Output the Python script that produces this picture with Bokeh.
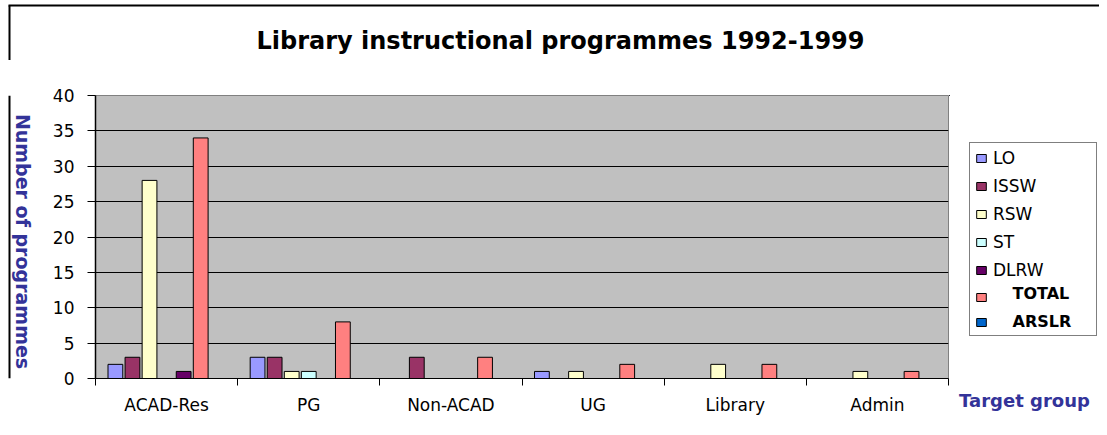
import math
from bokeh.plotting import figure
from bokeh.layouts import row, column
from bokeh.models import (ColumnDataSource, FixedTicker, Label, Legend, LegendItem,
                          Range1d)
from bokeh.transform import dodge
from bokeh.embed import file_html
from bokeh.resources import INLINE

# ---- data ----
categories = ["ACAD-Res", "PG", "Non-ACAD", "UG", "Library", "Admin"]
series = ["LO", "ISSW", "RSW", "ST", "DLRW", "TOTAL", "ARSLR"]
LO = [2, 3, 0, 1, 0, 0]
ISSW = [3, 3, 3, 0, 0, 0]
RSW = [28, 1, 0, 1, 2, 1]
ST = [0, 1, 0, 0, 0, 0]
DLRW = [1, 0, 0, 0, 0, 0]
TOTAL = [34, 8, 3, 2, 2, 1]
ARSLR = [0, 0, 0, 0, 0, 0]
colors = ["#9999FF", "#993366", "#FFFFCC", "#CCFFFF", "#660066", "#FF8080", "#0066CC"]
bold_series = ["TOTAL", "ARSLR"]
y_ticks = [0, 5, 10, 15, 20, 25, 30, 35, 40]

title_text = "Library instructional programmes 1992-1999"
y_label = "Number of programmes"
x_label = "Target group"

FONT = "DejaVu Sans"
BLUE = "#333399"

# ---- layout geometry (screen pixels) ----
W_TOTAL = 1099
H_TITLE = 60
H_ROW = 367
FRAME_L, FRAME_R, FRAME_T, FRAME_B = 95, 948, 95, 378
X_BAR = 9
W_LEFT = 45
X_RIGHT = FRAME_R + 1
W_RIGHT = W_TOTAL - X_RIGHT
W_MAIN = X_RIGHT - W_LEFT


def blank_fig(w, h, xr, yr):
    f = figure(width=w, height=h, output_backend="svg", toolbar_location=None,
               x_range=Range1d(*xr), y_range=Range1d(*yr),
               x_axis_type=None, y_axis_type=None,
               min_border_left=0, min_border_right=0, min_border_top=0,
               min_border_bottom=0)
    f.outline_line_color = None
    f.background_fill_color = "white"
    f.border_fill_color = "white"
    f.xgrid.visible = False
    f.ygrid.visible = False
    return f


# ---- title strip ----
tfig = blank_fig(W_TOTAL, H_TITLE, (0, W_TOTAL), (H_TITLE, 0))
tfig.segment(x0=[X_BAR - 1, X_BAR], y0=[5, 5], x1=[W_TOTAL, X_BAR], y1=[5, H_TITLE],
             line_color="black", line_width=2)
tfig.add_layout(Label(x=560, y=40, text=title_text, text_font=FONT,
                      text_font_style="bold", text_font_size="24px",
                      text_color="black", text_align="center",
                      text_baseline="middle"))

# ---- left strip with y label (frame aligned to main frame: 95..378) ----
lfig = blank_fig(W_LEFT, H_ROW, (0, W_LEFT), (FRAME_B, FRAME_T))
lfig.segment(x0=[X_BAR], y0=[FRAME_B], x1=[X_BAR], y1=[FRAME_T],
             line_color="black", line_width=2)
lfig.add_layout(Label(x=22, y=241, angle=-math.pi / 2, text=y_label,
                      text_font=FONT, text_font_style="bold",
                      text_font_size="19px", text_color=BLUE,
                      text_align="center", text_baseline="middle"))

# ---- main chart ----
xc = [i + 0.5 for i in range(len(categories))]
source = ColumnDataSource(dict(x=xc, LO=LO, ISSW=ISSW, RSW=RSW, ST=ST,
                               DLRW=DLRW, TOTAL=TOTAL, ARSLR=ARSLR))

p = figure(width=W_MAIN, height=H_ROW, output_backend="svg", toolbar_location=None,
           x_range=Range1d(0, len(categories)), y_range=Range1d(0, 40),
           min_border_left=FRAME_L - W_LEFT, min_border_right=1,
           min_border_top=FRAME_T - H_TITLE,
           min_border_bottom=H_ROW - (FRAME_B - H_TITLE))
p.background_fill_color = "#C0C0C0"
p.border_fill_color = "white"
p.outline_line_color = "#808080"

pitch = 0.12
for j, name in enumerate(series):
    p.vbar(x=dodge("x", (j - 3) * pitch, range=p.x_range), top=name,
           width=0.104, source=source, fill_color=colors[j],
           line_color="black", line_width=1)

p.xgrid.visible = False
p.ygrid.ticker = FixedTicker(ticks=y_ticks[1:-1])
p.ygrid.grid_line_color = "black"
p.ygrid.grid_line_width = 1

xa = p.xaxis[0]
xa.ticker = FixedTicker(ticks=xc, minor_ticks=list(range(len(categories) + 1)))
xa.major_label_overrides = {x: c for x, c in zip(xc, categories)}
xa.major_tick_out = 0
xa.major_tick_in = 0
xa.minor_tick_out = 7
xa.minor_tick_in = 0
xa.minor_tick_line_color = "black"
xa.axis_line_color = "black"
xa.major_label_text_font = FONT
xa.major_label_text_font_size = "17px"
xa.major_label_text_color = "black"
xa.major_label_standoff = 9

ya = p.yaxis[0]
ya.ticker = FixedTicker(ticks=y_ticks)
ya.major_tick_out = 8
ya.major_tick_in = 0
ya.minor_tick_line_color = None
ya.axis_line_color = "black"
ya.axis_line_width = 1.5
ya.major_tick_line_color = "black"
ya.major_label_text_font = FONT
ya.major_label_text_font_size = "17px"
ya.major_label_text_color = "black"
ya.major_label_standoff = 13

# ---- right strip: legend + x axis title ----
q = figure(width=W_RIGHT, height=H_ROW, output_backend="svg", toolbar_location=None,
           x_range=Range1d(X_RIGHT, W_TOTAL), y_range=Range1d(FRAME_B, FRAME_T),
           y_axis_type=None, min_border_left=0, min_border_right=0,
           min_border_top=0, min_border_bottom=0)
q.outline_line_color = None
q.background_fill_color = "white"
q.border_fill_color = "white"
q.xgrid.visible = False
q.ygrid.visible = False
qa = q.xaxis[0]
qa.ticker = FixedTicker(ticks=[])
qa.axis_line_color = None
qa.major_tick_line_color = None
qa.minor_tick_line_color = None
qa.axis_label = x_label
qa.axis_label_standoff = 11
qa.axis_label_text_font = FONT
qa.axis_label_text_font_style = "bold"
qa.axis_label_text_font_size = "18px"
qa.axis_label_text_color = BLUE

# legend key proxies (kept outside the visible range of this strip)
items = []
for j, name in enumerate(series):
    r = q.vbar(x=[-1e6], top=[0], width=1, fill_color=colors[j], line_color="black")
    lab = " " if name in bold_series else name
    items.append(LegendItem(label=lab, renderers=[r]))
leg_top, pad, item_pitch = 138, 5, 28
leg_h = 2 * pad + 7 * 20 + 6 * (item_pitch - 20)
legend = Legend(items=items, location=(969 - X_RIGHT, FRAME_B - (leg_top + leg_h)),
                padding=pad, spacing=item_pitch - 20, label_height=17, glyph_height=10,
                glyph_width=12, label_standoff=6, label_width=98, margin=0,
                border_line_color="black", border_line_width=1,
                background_fill_color="white", background_fill_alpha=0,
                label_text_font=FONT, label_text_font_size="17px",
                label_text_color="black")
q.add_layout(legend)
for k, name in enumerate(series):
    if name in bold_series:
        cy = leg_top + pad + 10 + item_pitch * k
        q.add_layout(Label(x=1012, y=cy, text=name, text_font=FONT,
                           text_font_style="bold", text_font_size="16px",
                           text_color="black", text_align="left",
                           text_baseline="middle", level="overlay"))

layout = column(tfig, row(lfig, p, q, spacing=0), spacing=0)
open("out.html", "w").write(file_html(layout, INLINE))
